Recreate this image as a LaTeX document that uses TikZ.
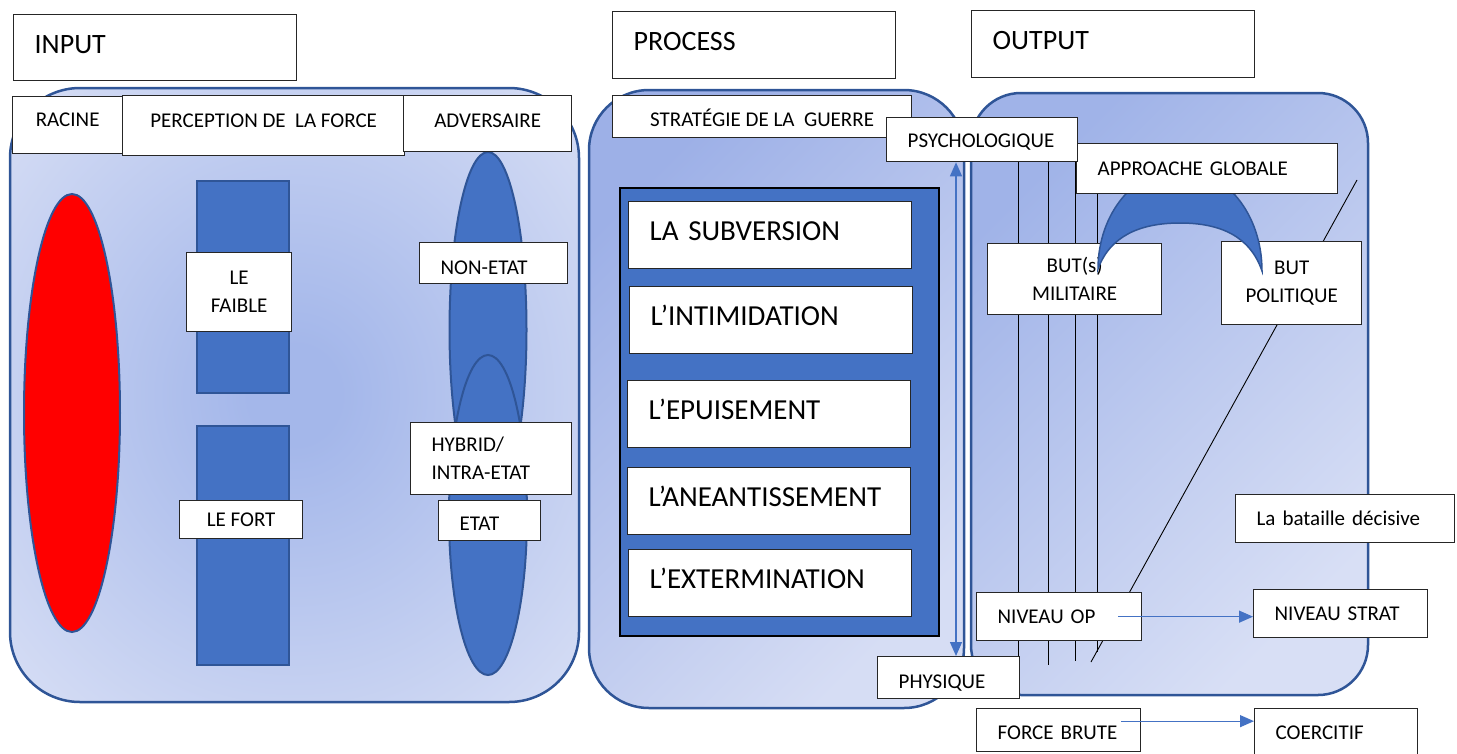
\documentclass[tikz,border=0pt]{standalone}
\usepackage{fontspec}
\setmainfont{Carlito}
\usetikzlibrary{arrows.meta}
\definecolor{bfill}{HTML}{4472C4}
\definecolor{bedge}{HTML}{2F5597}
\definecolor{pdark}{HTML}{9DB0E7}
\definecolor{plight}{HTML}{D6DDF4}
\definecolor{odark}{HTML}{A0B3E8}
\definecolor{olight}{HTML}{D8DFF5}
\definecolor{cin}{HTML}{A4B7EA}
\definecolor{cout}{HTML}{D8DFF5}
\pgfdeclareradialshading{inrad}{\pgfpoint{0bp}{0bp}}{color(0bp)=(cin); color(4bp)=(cin); color(36bp)=(cout); color(50bp)=(cout)}
\begin{document}
\begin{tikzpicture}[x=1pt,y=-1pt,
  box/.style={draw=black!85, fill=white, line width=1.3pt, inner sep=0pt, anchor=north west, font=\fontsize{21}{28}\selectfont},
  lbox/.style={box, align=left, inner xsep=21pt},
  cbox/.style={box, align=center},
  big/.style={font=\fontsize{29}{34}\selectfont},
  ttl/.style={font=\fontsize{28}{34}\selectfont},
  tv/.style 2 args={text height=#1pt, text depth=#2pt},
  panel/.style={draw=bedge, line width=2.5pt},
  bshape/.style={fill=bfill, draw=bedge, line width=2pt},
  arr/.style={draw=bfill, line width=1.3pt, -{Triangle[length=14pt,width=12pt]}},
  arrr/.style={draw=bfill, line width=1.3pt, {Triangle[length=14pt,width=12pt]}-{Triangle[length=14pt,width=12pt]}},
  thinline/.style={draw=black, line width=0.9pt}]
\useasboundingbox (0,0) rectangle (1457,753);

% titles
\node[lbox, ttl, tv={18}{6}, minimum width=283pt, minimum height=66pt, text width=241pt] (tin) at (13,14) {INPUT};
\node[lbox, ttl, tv={18}{7}, minimum width=283pt, minimum height=67pt, text width=241pt] (tproc) at (612,11) {PROCESS};
\node[lbox, ttl, tv={18}{7}, minimum width=283pt, minimum height=67pt, text width=241pt] (tout) at (971,10) {OUTPUT};

% panels
\path[panel, shading=inrad, rounded corners=70pt] (10,88) rectangle (579,702);
\path[panel, top color=pdark, bottom color=plight, shading angle=45, rounded corners=60pt] (589,90) rectangle (964,708);
\path[panel, top color=odark, bottom color=olight, shading angle=45, rounded corners=50pt] (971,93) rectangle (1368,695);

% input shapes
\draw[bshape, fill=red] (72,413) ellipse [x radius=48pt, y radius=219pt];
\draw[bshape] (197,181) rectangle (289,393);
\draw[bshape] (197,426) rectangle (289,665);
\draw[bshape] (488,330) ellipse [x radius=38.5pt, y radius=178pt];
\draw[bshape] (488,515) ellipse [x radius=39pt, y radius=160pt];

% input boxes
\node[cbox, tv={13.5}{11}, minimum width=110pt, minimum height=57pt] (racine) at (12,96) {RACINE};
\node[cbox, tv={13.5}{10}, minimum width=282pt, minimum height=60pt] (perc) at (122,95) {PERCEPTION DE\ \ LA FORCE};
\node[cbox, tv={13.5}{6}, minimum width=168pt, minimum height=56pt] (adv) at (403,95) {ADVERSAIRE};
\node[cbox, minimum width=105pt, minimum height=79pt] (faible) at (186,252) {LE\\FAIBLE};
\node[cbox, minimum width=123pt, minimum height=38pt] (fort) at (179,500) {LE FORT};
\node[lbox, tv={22.5}{0}, minimum width=148pt, minimum height=41pt, text width=106pt] (nonetat) at (419,242) {NON-ETAT};
\node[lbox, minimum width=161pt, minimum height=72pt, text width=119pt] (hybrid) at (410,422) {HYBRID/\\INTRA-ETAT};
\node[lbox, tv={19.5}{0}, minimum width=102pt, minimum height=40pt, text width=60pt] (etat) at (438,500) {ETAT};

% process
\node[cbox, tv={19.5}{0}, minimum width=299pt, minimum height=42pt] (strat) at (612,95) {STRATÉGIE DE LA\ \ GUERRE};
\draw[fill=bfill, draw=black, line width=2.5pt] (620,188) rectangle (939,636);
\node[lbox, big, tv={18.7}{9}, minimum width=283pt, minimum height=67pt, text width=241pt] (subv) at (628,201) {LA SUBVERSION};
\node[lbox, big, tv={18.7}{9}, minimum width=283pt, minimum height=67pt, text width=241pt] (intim) at (629,286) {L’INTIMIDATION};
\node[lbox, big, tv={18.7}{9}, minimum width=283pt, minimum height=67pt, text width=241pt] (epuis) at (627,380) {L’EPUISEMENT};
\node[lbox, big, tv={18.7}{9}, minimum width=283pt, minimum height=67pt, text width=241pt] (aneant) at (627,467) {L’ANEANTISSEMENT};
\node[lbox, big, tv={18.7}{9}, minimum width=283pt, minimum height=67pt, text width=241pt] (exterm) at (628,549) {L’EXTERMINATION};

% output lines
\draw[thinline] (1018,150) -- (1018,661);
\draw[thinline] (1048,150) -- (1048,665);
\draw[thinline] (1075,150) -- (1075,661);
\draw[thinline] (1097,150) -- (1097,652);
\draw[thinline] (1357,180) -- (1091,662);

% output boxes
\node[cbox, minimum width=174pt, minimum height=71pt] (butm) at (987,243) {BUT(s)\\MILITAIRE};
\node[cbox, minimum width=140pt, minimum height=83pt] (butp) at (1221,241) {BUT\\POLITIQUE};
\draw[bshape, line width=1.5pt] (1098,269) .. controls (1098,213.8) and (1134.7,169) .. (1180,169)
  .. controls (1225.3,169) and (1262,213.8) .. (1262,271)
  .. controls (1250,236) and (1220,223) .. (1180,223)
  .. controls (1140,223) and (1110,236) .. (1098,269) -- cycle;
\node[lbox, minimum width=261pt, minimum height=50pt, text width=219pt] (approche) at (1076,143) {APPROACHE GLOBALE};
\node[lbox, minimum width=219pt, minimum height=48pt, text width=177pt] (bataille) at (1235,494) {La bataille décisive};
\node[lbox, minimum width=165pt, minimum height=48pt, text width=123pt] (op) at (976,592) {NIVEAU OP};
\node[lbox, minimum width=174pt, minimum height=48pt, text width=132pt] (nstrat) at (1253,589) {NIVEAU STRAT};
\node[lbox, tv={18.5}{0}, minimum width=164pt, minimum height=43pt, text width=122pt] (brute) at (976,708) {FORCE BRUTE};
\node[lbox, tv={13.5}{0}, minimum width=163pt, minimum height=48pt, text width=121pt] (coer) at (1254,708) {COERCITIF};
\node[lbox, tv={15.5}{0}, minimum width=191pt, minimum height=44pt, text width=149pt] (psy) at (886,117) {PSYCHOLOGIQUE};
\node[lbox, tv={21.5}{0}, minimum width=142pt, minimum height=42pt, text width=100pt] (phy) at (877,656) {PHYSIQUE};

% arrows
\coordinate (ax) at (956,0);
\draw[arrr] (psy.south -| ax) -- (phy.north -| ax);
\draw[arr] ([xshift=-24pt]op.east) -- (op.east -| nstrat.west);
\draw[arr] ([xshift=-20pt,yshift=9pt]brute.east) -- ([yshift=9pt]brute.east -| coer.west);
\end{tikzpicture}
\end{document}
